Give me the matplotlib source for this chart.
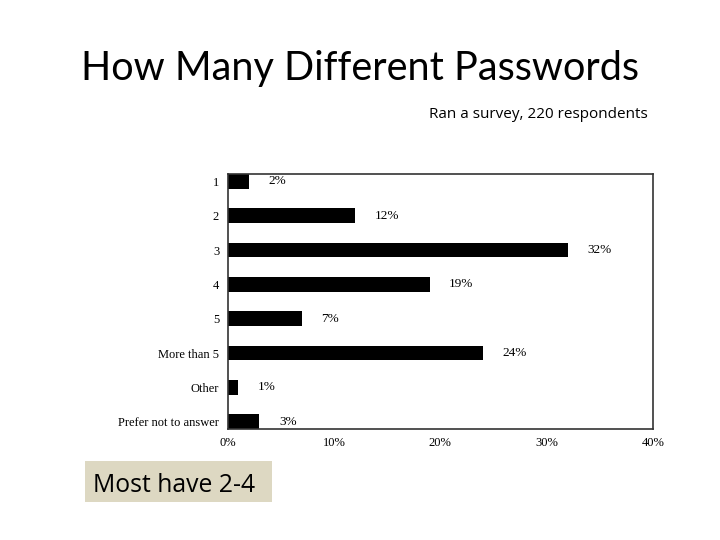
import matplotlib
matplotlib.use('Agg')
import matplotlib.pyplot as plt
from matplotlib.patches import Rectangle

categories = ['1', '2', '3', '4', '5', 'More than 5', 'Other', 'Prefer not to answer']
percents = [2, 12, 32, 19, 7, 24, 1, 3]
xticks = [0, 10, 20, 30, 40]

fig = plt.figure(figsize=(7.2, 5.4), dpi=100)

fig.text(0.5, 0.873, 'How Many Different Passwords', ha='center', va='center',
         fontsize=28.5, family='Lato')
fig.text(0.9, 0.788, 'Ran a survey, 220 respondents', ha='right', va='center',
         fontsize=11, family='Open Sans')

ax = fig.add_axes([0.316, 0.2056, 0.591, 0.472])
ypos = list(range(len(categories)))
ax.barh(ypos, percents, height=0.43, color='black')
for y, p in zip(ypos, percents):
    ax.annotate(f'{p}%', xy=(p, y), xytext=(14, 0), textcoords='offset points',
                va='center', ha='left', fontsize=9.5, family='Liberation Serif')

ax.set_xlim(0, 40)
ax.set_ylim(len(categories) - 1 + 0.21, -0.21)
ax.set_yticks(ypos)
ax.set_yticklabels(categories, family='Liberation Serif', fontsize=9)
ax.set_xticks(xticks)
ax.set_xticklabels([f'{t}%' for t in xticks], family='Liberation Serif', fontsize=9)
ax.tick_params(length=0, pad=6)
for s in ax.spines.values():
    s.set_color('#333333')
    s.set_linewidth(1.2)

fig.patches.append(Rectangle((85 / 720, 1 - 502 / 540), 187 / 720, 41 / 540,
                             transform=fig.transFigure, facecolor='#DDD8C2',
                             edgecolor='none'))
fig.text(93 / 720, 1 - 485 / 540, 'Most have 2-4', ha='left', va='center',
         fontsize=17.8, family='Open Sans')

fig.savefig('out.png', dpi=100)
